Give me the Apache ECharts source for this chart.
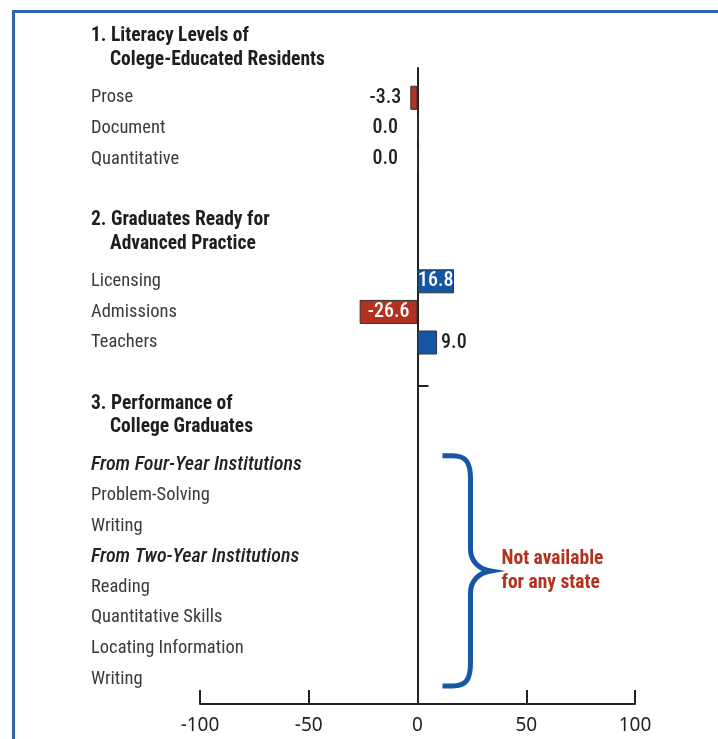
<!DOCTYPE html>
<html><head><meta charset="utf-8">
<script src="https://cdn.jsdelivr.net/npm/echarts@6/dist/echarts.min.js"></script>
<style>html,body{margin:0;padding:0;background:#fff}#c{width:718px;height:739px}</style>
</head><body><div id="c"></div>
<script>
// ---- data ----
const section1Title = ['1. Literacy Levels of', 'Colege-Educated Residents'];
const section1Rows = ['Prose', 'Document', 'Quantitative'];
const section1Values = [-3.3, 0.0, 0.0];
const section2Title = ['2. Graduates Ready for', 'Advanced Practice'];
const section2Rows = ['Licensing', 'Admissions', 'Teachers'];
const section2Values = [16.8, -26.6, 9.0];
const section3Title = ['3. Performance of', 'College Graduates'];
const section3Groups = ['From Four-Year Institutions', 'From Two-Year Institutions'];
const fourYearRows = ['Problem-Solving', 'Writing'];
const twoYearRows = ['Reading', 'Quantitative Skills', 'Locating Information', 'Writing'];
const notAvailableText = ['Not available', 'for any state'];
const xTickValues = [-100, -50, 0, 50, 100];

// ---- build rows ----
const rows = [];
function addTitle(t) { rows.push({ label: t.join('\n'), kind: 'title', lines: t, value: null }); rows.push({ label: '', kind: 'blank', value: null }); }
function addRows(names, vals) { names.forEach((n, i) => rows.push({ label: n, kind: 'row', value: vals ? vals[i] : null })); }
addTitle(section1Title); addRows(section1Rows, section1Values); rows.push({ label: '', kind: 'blank', value: null });
addTitle(section2Title); addRows(section2Rows, section2Values); rows.push({ label: '', kind: 'blank', value: null });
addTitle(section3Title);
rows.push({ label: section3Groups[0], kind: 'group', value: null });
const naStart = rows.length - 1;
addRows(fourYearRows, null);
rows.push({ label: section3Groups[1], kind: 'group', value: null });
addRows(twoYearRows, null);
const naEnd = rows.length - 1;

const FAM = "Roboto, sans-serif";
const COND = 'condensed';
const RED = '#b3311f', BLUE = '#1455a4', INK = '#222';

const barData = rows.map(r => {
  if (r.value === null) return '-';
  const v = r.value;
  const big = Math.abs(v) >= 15;
  return {
    value: v,
    itemStyle: { color: v < 0 ? RED : BLUE },
    label: big ? { position: 'inside', color: '#fff' }
               : (v > 0 ? { position: 'right', distance: 4, color: INK }
                        : { position: 'left', distance: v === 0 ? 19 : 9, color: INK })
  };
});

const chart = echarts.init(document.getElementById('c'), null, { renderer: 'canvas' });
chart.setOption({
  animation: false,
  backgroundColor: '#fff',
  graphic: [{
    type: 'polyline', silent: true,
    shape: { points: [[13.5, 739], [13.5, 11.5], [718, 11.5]] },
    style: { stroke: '#2f63ad', lineWidth: 3, fill: null }
  }],
  grid: [
    { left: 200, width: 435, top: 21.3, height: 673 },
    { left: 200, width: 435, top: 68, height: 636 }
  ],
  xAxis: [
    { gridIndex: 0, type: 'value', min: -100, max: 100, show: false, axisLine: { onZero: false } },
    { gridIndex: 1, type: 'value', min: -100, max: 100, interval: 50, position: 'bottom',
      axisLine: { show: true, onZero: false, lineStyle: { color: INK, width: 2 } },
      axisTick: { show: true, inside: true, length: 14, lineStyle: { color: INK, width: 2 } },
      axisLabel: { color: INK, fontSize: 19, fontFamily: "'Noto Sans', sans-serif", margin: 12,
                   formatter: v => xTickValues.includes(v) ? String(v) : '' },
      splitLine: { show: false } }
  ],
  yAxis: [
    { gridIndex: 0, type: 'category', inverse: true, data: rows.map(r => r.label),
      axisLine: { show: false, onZero: false }, axisTick: { show: false },
      axisLabel: {
        interval: 0, align: 'left', margin: 109, fontFamily: FAM, fontStyle: COND, fontSize: 18.5, color: '#333',
        formatter: (val, idx) => {
          const r = rows[idx];
          if (!r) return '';
          if (r.kind === 'title') return '{sp| }\n{t|' + r.lines[0] + '}\n{t2|' + r.lines[1] + '}';
          if (r.kind === 'group') return '{g|' + r.label + '}';
          if (r.kind === 'blank') return '';
          return '{r|' + r.label + '}';
        },
        rich: {
          sp: { fontSize: 18, lineHeight: 23.8 },
          t: { fontFamily: FAM, fontStyle: COND, fontSize: 19.5, fontWeight: 'bold', color: '#1e1e1e', lineHeight: 23.8 },
          t2: { fontFamily: FAM, fontStyle: COND, fontSize: 19.5, fontWeight: 'bold', color: '#1e1e1e', lineHeight: 23.8, padding: [0, 0, 0, 19] },
          g: { fontFamily: FAM, fontStyle: 'italic ' + COND, fontSize: 20, fontWeight: 500, color: '#222' },
          r: { fontFamily: FAM, fontStyle: COND, fontSize: 18.5, color: '#3a3a3a' }
        }
      } },
    { gridIndex: 1, type: 'value', min: 0, max: 2, inverse: true,
      axisLine: { show: true, onZero: true, lineStyle: { color: INK, width: 2 } },
      axisTick: { show: true, inside: true, length: 11, customValues: [1], lineStyle: { color: INK, width: 2 } },
      axisLabel: { show: false }, splitLine: { show: false } }
  ],
  series: [
    { type: 'bar', xAxisIndex: 0, yAxisIndex: 0, barWidth: 24, data: barData,
      itemStyle: { borderColor: '#333', borderWidth: 1 },
      label: { show: true, fontFamily: FAM, fontStyle: COND, fontSize: 20, fontWeight: 500, formatter: p => p.value.toFixed(1) } },
    { type: 'custom', xAxisIndex: 0, yAxisIndex: 0, data: [[naStart, naEnd]], silent: true,
      renderItem: (params, api) => {
        const p0 = api.coord([0, api.value(0)]);
        const p1 = api.coord([0, api.value(1)]);
        const x = p0[0];
        const yt = p0[1] - 9, yb = p1[1] + 7, ym = (yt + yb) / 2;
        const a = x + 25, b = x + 35, c = x + 53, tip = x + 73;
        const path = `M${a} ${yt} L${b} ${yt} C${c - 4} ${yt} ${c} ${yt + 7} ${c} ${yt + 23} L${c} ${ym - 22} C${c} ${ym - 10} ${c + 8} ${ym - 2} ${tip} ${ym} ` +
                     `C${c + 8} ${ym + 2} ${c} ${ym + 10} ${c} ${ym + 22} L${c} ${yb - 23} C${c} ${yb - 7} ${c - 4} ${yb} ${b} ${yb} L${a} ${yb}`;
        return { type: 'group', children: [
          { type: 'path', shape: { pathData: path }, style: { fill: null, stroke: '#1657a3', lineWidth: 5 } },
          { type: 'text', style: { text: notAvailableText.join('\n'), x: tip + 11, y: ym, align: 'left', verticalAlign: 'middle',
              fill: RED, fontFamily: FAM, fontStyle: COND, fontWeight: 'bold', fontSize: 19.5, lineHeight: 24 } }
        ] };
      } }
  ]
});
</script></body></html>
